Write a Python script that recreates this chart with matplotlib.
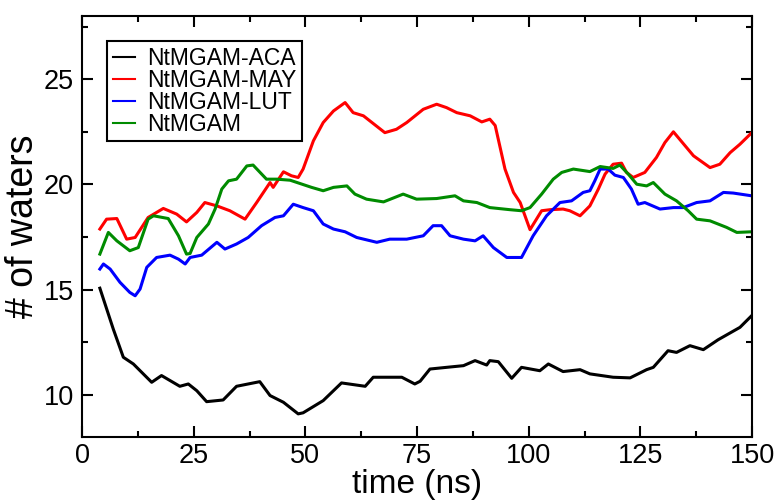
import matplotlib
matplotlib.use('Agg')
import matplotlib.pyplot as plt
from matplotlib.ticker import MultipleLocator

plt.rcParams['font.family'] = ['Liberation Sans', 'DejaVu Sans']

# NtMGAM-ACA (black)
t_aca = [4.0, 7.0, 9.25, 11.5, 15.6, 17.8, 21.9, 23.8, 25.7, 27.9, 31.6, 34.6, 39.8, 42.1,
         45.1, 48.4, 49.5, 54.0, 58.1, 63.4, 65.2, 71.6, 74.5, 75.7, 77.9, 81.6, 85.4, 88.0,
         90.6, 91.3, 93.2, 96.2, 98.4, 102.5, 104.4, 107.7, 111.5, 113.7, 118.9, 122.7,
         126.4, 127.9, 131.2, 133.1, 136.1, 139.1, 142.4, 147.3, 149.9]
v_aca = [15.07, 13.13, 11.79, 11.47, 10.6, 10.92, 10.41, 10.52, 10.2, 9.68, 9.76, 10.41, 10.63, 9.97,
         9.65, 9.1, 9.15, 9.73, 10.57, 10.41, 10.84, 10.84, 10.52, 10.65, 11.23, 11.31, 11.39, 11.63,
         11.42, 11.63, 11.58, 10.79, 11.31, 11.15, 11.47, 11.11, 11.2, 11.0, 10.84, 10.81,
         11.2, 11.31, 12.1, 12.02, 12.34, 12.15, 12.62, 13.21, 13.76]

# NtMGAM-MAY (red)
t_may = [4.0, 5.5, 7.8, 10.0, 11.9, 14.8, 18.2, 21.2, 23.4, 25.7, 27.5, 30.2, 33.1, 36.5,
         39.1, 42.1, 42.8, 45.1, 46.9, 48.4, 49.5, 51.8, 54.0, 56.3, 58.9, 60.7, 63.0, 67.8,
         70.4, 72.7, 76.4, 79.4, 81.6, 83.9, 86.9, 89.5, 91.3, 92.5, 94.7, 96.6, 98.1, 100.3,
         102.9, 104.8, 107.7, 109.2, 111.5, 113.7, 115.6, 117.1, 118.9, 120.8, 121.9, 123.4,
         126.0, 128.6, 130.5, 132.4, 136.9, 140.6, 142.8, 145.1, 147.3, 149.9]
v_may = [17.88, 18.35, 18.38, 17.4, 17.48, 18.43, 18.86, 18.59, 18.22, 18.67, 19.14, 18.98, 18.75, 18.35,
         19.14, 20.09, 19.86, 20.6, 20.41, 20.33, 20.73, 22.07, 22.94, 23.49, 23.89, 23.41, 23.26, 22.46,
         22.62, 22.94, 23.57, 23.81, 23.65, 23.41, 23.26, 22.97, 23.1, 22.8, 20.73, 19.62, 19.14, 17.85,
         18.75, 18.8, 18.83, 18.75, 18.51, 18.98, 19.78, 20.49, 20.96, 21.01, 20.57, 20.33,
         20.57, 21.28, 21.99, 22.5, 21.36, 20.8, 20.96, 21.51, 21.91, 22.45]

# NtMGAM-LUT (blue)
t_lut = [4.0, 4.8, 6.3, 8.5, 10.7, 11.9, 13.0, 14.5, 16.7, 19.7, 21.6, 23.1, 24.2, 26.8,
         30.2, 32.0, 34.6, 37.2, 40.2, 43.2, 45.1, 47.3, 49.5, 51.8, 54.0, 56.3, 58.9, 61.5,
         66.0, 68.9, 72.7, 76.4, 78.6, 80.5, 82.4, 85.4, 88.0, 89.8, 92.1, 95.1, 98.4, 101.0,
         104.0, 107.0, 109.6, 112.2, 113.7, 114.8, 116.0, 117.8, 119.3, 121.2, 123.0, 124.5,
         126.0, 129.4, 132.4, 134.6, 137.6, 140.6, 143.6, 145.8, 149.9]
v_lut = [15.98, 16.22, 15.98, 15.35, 14.87, 14.71, 15.03, 16.06, 16.53, 16.64, 16.45, 16.22, 16.53, 16.64,
         17.25, 16.93, 17.17, 17.48, 18.04, 18.43, 18.51, 19.06, 18.9, 18.75, 18.12, 17.88, 17.75, 17.48,
         17.25, 17.4, 17.4, 17.56, 18.04, 18.04, 17.56, 17.4, 17.32, 17.56, 17.0, 16.53, 16.53, 17.56,
         18.51, 19.14, 19.22, 19.62, 19.7, 20.17, 20.73, 20.73, 20.44, 20.33, 19.78, 19.06,
         19.14, 18.83, 18.9, 18.9, 19.14, 19.22, 19.62, 19.59, 19.46]

# NtMGAM (green)
t_wt = [4.0, 5.9, 7.8, 10.7, 12.6, 14.8, 16.0, 19.3, 21.6, 23.4, 24.2, 25.7, 28.3, 29.8,
        31.3, 32.8, 34.6, 36.9, 38.3, 41.3, 43.6, 46.6, 51.4, 54.0, 56.3, 59.3, 61.1, 63.7,
        67.5, 71.9, 74.9, 79.4, 83.5, 85.4, 88.4, 91.3, 95.8, 98.4, 100.3, 102.9, 105.5,
        107.4, 110.0, 113.7, 116.0, 118.9, 120.4, 122.3, 124.2, 126.4, 127.9, 130.5, 133.1,
        135.7, 137.6, 140.6, 144.3, 146.6, 149.9]
v_wt = [16.69, 17.72, 17.32, 16.85, 17.0, 18.35, 18.51, 18.38, 17.56, 16.69, 16.72, 17.48, 18.12, 18.83,
        19.78, 20.17, 20.25, 20.88, 20.92, 20.25, 20.25, 20.2, 19.86, 19.7, 19.86, 19.93, 19.54, 19.3,
        19.17, 19.54, 19.3, 19.33, 19.46, 19.22, 19.14, 18.9, 18.8, 18.75, 18.9, 19.54, 20.25,
        20.57, 20.73, 20.61, 20.85, 20.76, 20.92, 20.49, 20.01, 19.93, 20.09, 19.54, 19.22,
        18.75, 18.35, 18.27, 17.96, 17.72, 17.75]

fig = plt.figure(figsize=(7.78, 5.01), dpi=100)
ax = fig.add_axes([0.1054, 0.1277, 0.8612, 0.8403])

lw = 2.2
ax.plot(t_aca, v_aca, color='black', lw=lw, label='NtMGAM-ACA')
ax.plot(t_may, v_may, color='#ff0000', lw=lw, label='NtMGAM-MAY')
ax.plot(t_lut, v_lut, color='#0000ff', lw=lw, label='NtMGAM-LUT')
ax.plot(t_wt, v_wt, color='#008b00', lw=lw, label='NtMGAM')

ax.set_xlim(0, 150)
ax.set_ylim(8, 28)
ax.xaxis.set_major_locator(MultipleLocator(25))
ax.xaxis.set_minor_locator(MultipleLocator(12.5))
ax.yaxis.set_major_locator(MultipleLocator(5))
ax.yaxis.set_minor_locator(MultipleLocator(2.5))
ax.tick_params(which='both', direction='in', top=True, right=True, width=1.5,
               labelsize=19.5, pad=6)
ax.tick_params(axis='x', which='both', pad=4)
ax.tick_params(which='major', length=8)
ax.tick_params(which='minor', length=4)
for s in ax.spines.values():
    s.set_linewidth(1.5)

ax.set_xlabel('time (ns)', fontsize=24, labelpad=0)
ax.set_ylabel('# of waters', fontsize=27, labelpad=2)

leg = ax.legend(loc='upper left', bbox_to_anchor=(0.037, 0.94), borderaxespad=0,
                fontsize=16.5, fancybox=False, framealpha=1, edgecolor='black',
                handlelength=1.0, handletextpad=0.5, labelspacing=-0.05,
                borderpad=0.25)
leg.get_frame().set_linewidth(1.5)
for h in leg.get_lines():
    h.set_linewidth(1.5)

fig.savefig('out.png', dpi=100)
